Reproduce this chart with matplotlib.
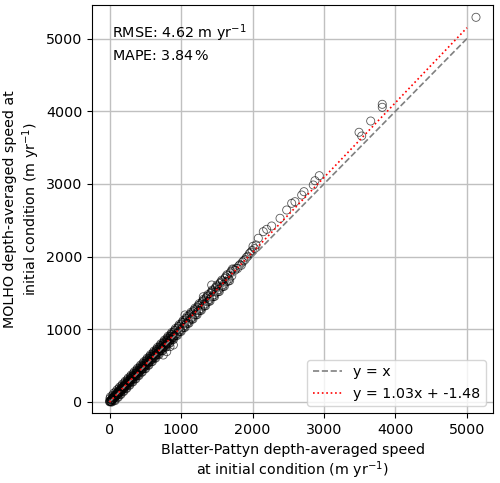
import matplotlib
matplotlib.use("Agg")
import matplotlib.pyplot as plt
import numpy as np

# Blatter-Pattyn (x) vs MOLHO (y) depth-averaged speed, m/yr
bp_speed = [
    2, 8, 15, 22, 31, 38, 47, 55, 63, 72, 80, 91, 99, 108, 118, 126, 137, 145, 156, 164,
    175, 186, 194, 205, 214, 226, 235, 247, 256, 268, 277, 289, 298, 310, 321, 330, 342, 353, 362, 375,
    386, 395, 408, 419, 430, 441, 452, 463, 476, 487, 498, 510, 522, 533, 545, 556, 568, 580, 591, 604,
    615, 627, 640, 651, 663, 676, 688, 700, 712, 725, 737, 750, 762, 775, 788, 800, 813, 826, 838, 851,
    864, 877, 890, 902, 915, 929, 942, 955, 968, 982, 995, 1008, 1022, 1036, 1049, 1063, 1077, 1090, 1104, 1118,
    1132, 1146, 1160, 1175, 1189, 1203, 1218, 1232, 1247, 1262, 1276, 1291, 1306, 1321, 1336, 1352, 1367, 1382, 1398, 1414,
    1430, 1446, 1462, 1478, 1495, 1511, 1528, 1545, 1562, 1579, 1597, 1615, 1633, 1651, 1670, 1690, 1710, 1731,
    1755, 1772, 1790, 1808, 1825, 1843, 1860, 1878, 1897, 1915, 1935, 1955, 1975, 1995, 2007, 2030, 2050, 2081,
    2151, 2198, 2268, 2385, 2478, 2548, 2594, 2688, 2720, 2850, 2874, 2934,
    3490, 3527, 3653, 3815, 3815, 5126,
    752, 800, 846, 893, 1056, 1312, 1429,
    5, 26, 43, 67, 86, 112, 131, 150, 170, 190, 210, 230, 252, 272, 293, 315, 336, 357, 380, 400,
    424, 446, 469, 492, 516, 539, 562, 586, 610, 633, 657, 682, 706, 731, 756, 781, 807, 832, 857, 883,
    909, 935, 962, 989, 1015, 1042, 1070, 1097, 1125, 1153, 1182, 1210, 1240, 1269, 1299, 1329, 1360, 1390,
    1422, 1454, 1486, 1520, 1553, 1588, 1624, 1660, 1700,
    12, 34, 58, 77, 103, 122, 141, 160, 180, 200, 220, 241, 262, 283, 304, 326, 347, 368, 390, 413,
    435, 457, 480, 504, 527, 550, 574, 598, 621, 645, 670, 694, 718, 743, 768, 794, 819, 845, 870, 896,
    922, 949, 975, 1002, 1029, 1056, 1083, 1111, 1139, 1167, 1196, 1225, 1254, 1284, 1314, 1344, 1375, 1406,
    1438, 1470, 1503, 1536, 1570, 1606, 1642, 1680, 1720,
    3, 18, 28, 41, 52, 60, 69, 84, 95, 105, 115, 128, 134, 147, 153, 167, 178, 184, 197, 208,
    217, 223, 238, 244, 259, 265, 280, 286, 301, 307, 318, 333, 339, 350, 365, 371, 383, 392, 404, 416,
    427, 438, 449, 460, 472, 484, 495, 507, 519, 530, 542, 553, 565, 577, 589, 600, 612, 624, 636, 648,
    660, 672, 685, 697, 709, 722, 734, 747, 759, 772, 785, 797, 810, 823, 835, 848, 861, 874, 887, 899,
]
molho_speed = [
    1, 12, 4, 30, 22, 52, 35, 70, 50, 90, 66, 110, 84, 128, 102, 150, 122, 168, 140, 190,
    160, 212, 178, 232, 198, 256, 220, 280, 240, 298, 262, 322, 284, 346, 306, 366, 328, 390, 350, 412,
    372, 434, 396, 458, 420, 482, 444, 505, 464, 530, 490, 555, 510, 578, 536, 602, 560, 628, 584, 652,
    608, 676, 634, 702, 656, 728, 684, 752, 708, 778, 732, 804, 758, 830, 784, 856, 810, 882, 836, 908,
    862, 936, 888, 962, 914, 990, 940, 1016, 968, 1045, 996, 1072, 1024, 1100, 1052, 1128, 1080, 1156, 1108, 1186,
    1138, 1214, 1166, 1244, 1196, 1272, 1226, 1302, 1256, 1334, 1286, 1364, 1316, 1396, 1348, 1428, 1378, 1460, 1410, 1492,
    1444, 1526, 1476, 1558, 1510, 1592, 1546, 1628, 1580, 1664, 1618, 1700, 1654, 1738, 1692, 1776, 1734, 1820,
    1812, 1840, 1835, 1872, 1890, 1880, 1925, 1945, 1960, 1990, 2005, 2040, 2060, 2085, 2142, 2110, 2160, 2252,
    2343, 2375, 2421, 2527, 2641, 2733, 2755, 2847, 2893, 2985, 3044, 3113,
    3710, 3659, 3865, 4054, 4095, 5292,
    646, 692, 761, 784, 1197, 1448, 1609,
    45, 2, 92, 25, 137, 68, 182, 108, 222, 150, 265, 190, 308, 234, 350, 278, 395, 320, 440, 366,
    485, 412, 532, 460, 580, 508, 628, 556, 677, 605, 725, 656, 776, 706, 827, 758, 880, 810, 931, 862,
    985, 916, 1039, 972, 1094, 1026, 1150, 1083, 1207, 1140, 1266, 1199, 1325, 1260, 1386, 1322, 1449, 1385,
    1513, 1450, 1578, 1518, 1647, 1588, 1720, 1662, 1798,
    70, 0, 120, 18, 166, 64, 205, 103, 245, 145, 286, 187, 330, 230, 372, 275, 417, 318, 462, 364,
    508, 410, 554, 458, 603, 505, 651, 555, 700, 603, 750, 653, 800, 704, 851, 756, 904, 809, 956, 861,
    1010, 916, 1064, 970, 1120, 1026, 1176, 1083, 1233, 1140, 1292, 1200, 1352, 1261, 1413, 1323, 1476, 1387,
    1540, 1452, 1608, 1520, 1676, 1592, 1750, 1668, 1830,
    8, 12, 35, 34, 60, 55, 78, 80, 104, 100, 126, 125, 145, 144, 165, 163, 190, 180, 210, 207,
    230, 222, 252, 245, 273, 265, 295, 287, 317, 308, 336, 336, 357, 352, 384, 372, 402, 395, 424, 418,
    447, 440, 470, 463, 494, 488, 518, 510, 543, 533, 567, 556, 591, 580, 616, 604, 640, 628, 665, 652,
    690, 676, 716, 702, 741, 727, 767, 752, 793, 777, 820, 803, 846, 829, 872, 854, 898, 880, 925, 905,
]

fit_slope = 1.03
fit_intercept = -1.48
line_x = [0, 5000]
ticks = [0, 1000, 2000, 3000, 4000, 5000]

rmse_text = "RMSE: 4.62 m yr$^{-1}$"
mape_text = "MAPE: 3.84$\\,$%"

FS = 10.3
fig = plt.figure(figsize=(5.0, 4.83), dpi=100)
ax = fig.add_axes([0.184, 0.144, 0.8026, 0.8456])
ax.set_axisbelow(True)
ax.grid(True, color="#c0c0c0", linewidth=1.0)

ax.scatter(bp_speed, molho_speed, s=34, facecolors="none", edgecolors="k",
           linewidths=0.6, alpha=0.65, zorder=2)

lx = np.array(line_x, dtype=float)
ax.plot(lx, lx, color="gray", linestyle="--", linewidth=1.2, label="y = x", zorder=3)
ax.plot(lx, fit_slope * lx + fit_intercept, color="red", linestyle=":", linewidth=1.2,
        label=f"y = {fit_slope:.2f}x + {fit_intercept:.2f}", zorder=4)

ax.set_xlim(-245, 5368)
ax.set_ylim(-158, 5461)
ax.set_xticks(ticks)
ax.set_yticks(ticks)
ax.tick_params(labelsize=FS)

ax.text(0.05, 0.957, rmse_text, transform=ax.transAxes, fontsize=FS, va="top", ha="left")
ax.text(0.05, 0.893, mape_text, transform=ax.transAxes, fontsize=FS, va="top", ha="left")

ax.set_xlabel("Blatter-Pattyn depth-averaged speed\nat initial condition (m yr$^{-1}$)", fontsize=FS)
ax.set_ylabel("MOLHO depth-averaged speed at\ninitial condition (m yr$^{-1}$)", fontsize=FS, labelpad=3)

ax.legend(loc="lower right", fontsize=FS)

fig.savefig("out.png", dpi=100)
